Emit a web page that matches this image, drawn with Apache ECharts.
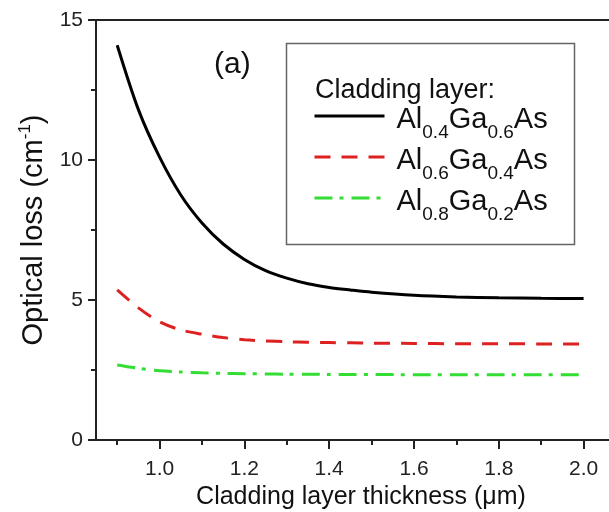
<!DOCTYPE html>
<html><head><meta charset="utf-8">
<script src="https://cdn.jsdelivr.net/npm/echarts@6/dist/echarts.min.js"></script>
<style>html,body{margin:0;padding:0;background:#fff}#c{width:609px;height:512px}</style>
</head><body><div id="c"></div>
<script>
const thickness = [0.90,0.95,1.00,1.05,1.10,1.15,1.20,1.25,1.30,1.35,1.40,1.45,1.50,1.60,1.70,1.80,1.90,2.00];
const lossAl04 = [14.1,11.8,10.1,8.75,7.75,7.0,6.45,6.05,5.78,5.58,5.45,5.36,5.28,5.17,5.11,5.08,5.06,5.05];
const lossAl06 = [5.36,4.72,4.22,3.93,3.78,3.66,3.58,3.54,3.51,3.49,3.48,3.47,3.46,3.45,3.44,3.44,3.43,3.43];
const lossAl08 = [2.68,2.56,2.47,2.43,2.40,2.38,2.37,2.36,2.35,2.35,2.34,2.34,2.34,2.33,2.33,2.33,2.33,2.33];
const seriesNames = ['Al0.4Ga0.6As','Al0.6Ga0.4As','Al0.8Ga0.2As'];
const subs = [['0.4','0.6'],['0.6','0.4'],['0.8','0.2']];
const xMajorTicks = [1.0,1.2,1.4,1.6,1.8,2.0];
const xMinorTicks = [0.9,1.1,1.3,1.5,1.7,1.9,2.1];
const yTicks = [0,5,10,15];

const FONT = '"Liberation Sans", Arial, sans-serif';
const chart = echarts.init(document.getElementById('c'), null, {renderer:'canvas'});
const pair = a => thickness.map((x,i)=>[x,a[i]]);
const colors = ['#000000','#dd2020','#33dd33'];
const dashes = ['solid',[16,11],[18,7,4,8]];
const data = [lossAl04, lossAl06, lossAl08];

const axisCommon = {
  axisLine:{show:true, lineStyle:{color:'#222', width:2}},
  splitLine:{show:false}
};

chart.setOption({
  animation:false,
  backgroundColor:'#fff',
  grid:{left:96, top:20, height:420, width:530, show:true, borderColor:'#222', borderWidth:2,
        containLabel:false, outerBoundsMode:'none'},
  xAxis:[{
    type:'value', min:0.85, max:2.1, position:'bottom',
    ...axisCommon,
    axisTick:{show:true, customValues:xMajorTicks, length:9, lineStyle:{color:'#222', width:2}},
    axisLabel:{show:true, customValues:xMajorTicks, margin:19, fontSize:21, color:'#222', fontFamily:FONT,
      formatter:v=>v.toFixed(1)},
    name:'Cladding layer thickness (μm)', nameLocation:'middle', nameGap:44,
    nameTextStyle:{fontSize:25, color:'#111', fontFamily:FONT}
  },{
    type:'value', min:0.85, max:2.1, position:'bottom',
    axisLine:{show:false}, splitLine:{show:false},
    axisTick:{show:true, customValues:xMinorTicks, length:5, lineStyle:{color:'#222', width:2}},
    axisLabel:{show:false}
  }],
  yAxis:{
    type:'value', min:0, max:15, interval:5,
    ...axisCommon,
    axisTick:{show:true, length:8, lineStyle:{color:'#222', width:2}},
    minorTick:{show:true, splitNumber:2, length:5, lineStyle:{color:'#222', width:2}},
    axisLabel:{margin:13, fontSize:21, color:'#222', fontFamily:FONT},
    name:'{t|Optical loss (cm}{s|-1}{t|)}', nameLocation:'middle', nameGap:46,
    nameTextStyle:{fontSize:29, color:'#111', fontFamily:FONT,
      rich:{t:{fontSize:29, fontFamily:FONT, color:'#111', verticalAlign:'bottom', lineHeight:32},
            s:{fontSize:17, fontFamily:FONT, color:'#111', verticalAlign:'top', lineHeight:17, padding:[0,0,15,0]}}}
  },
  legend:{
    orient:'vertical', left:313, top:101, padding:0, itemGap:0, itemWidth:70, itemHeight:20,
    itemStyle:{opacity:0}, lineStyle:{width:3},
    data:seriesNames,
    formatter:name=>{const i=seriesNames.indexOf(name);return '{b|Al}{s|'+subs[i][0]+'}{b|Ga}{s|'+subs[i][1]+'}{b|As}';},
    textStyle:{fontFamily:FONT, padding:[0,0,0,7],
      rich:{b:{fontSize:29, fontFamily:FONT, color:'#111', verticalAlign:'top', lineHeight:30, padding:[4,0,0,0]},
            s:{fontSize:19, fontFamily:FONT, color:'#111', verticalAlign:'top', lineHeight:19, padding:[22,0,0,0]}}}
  },
  graphic:[
    {type:'rect', left:284, top:41, shape:{width:288, height:201}, style:{fill:'none', stroke:'#666', lineWidth:1.5}, z:1},
    {type:'text', left:315, top:77, style:{text:'Cladding layer:', font:'27px '+FONT, fill:'#111'}},
    {type:'text', left:214, top:50, style:{text:'(a)', font:'30px '+FONT, fill:'#111'}}
  ],
  series:data.map((d,i)=>({
    name:seriesNames[i], type:'line', xAxisIndex:0, data:pair(d), smooth:0.3, symbol:'none',
    lineStyle:{color:colors[i], width:3, type:dashes[i]}, itemStyle:{color:colors[i]}
  }))
});
</script></body></html>
